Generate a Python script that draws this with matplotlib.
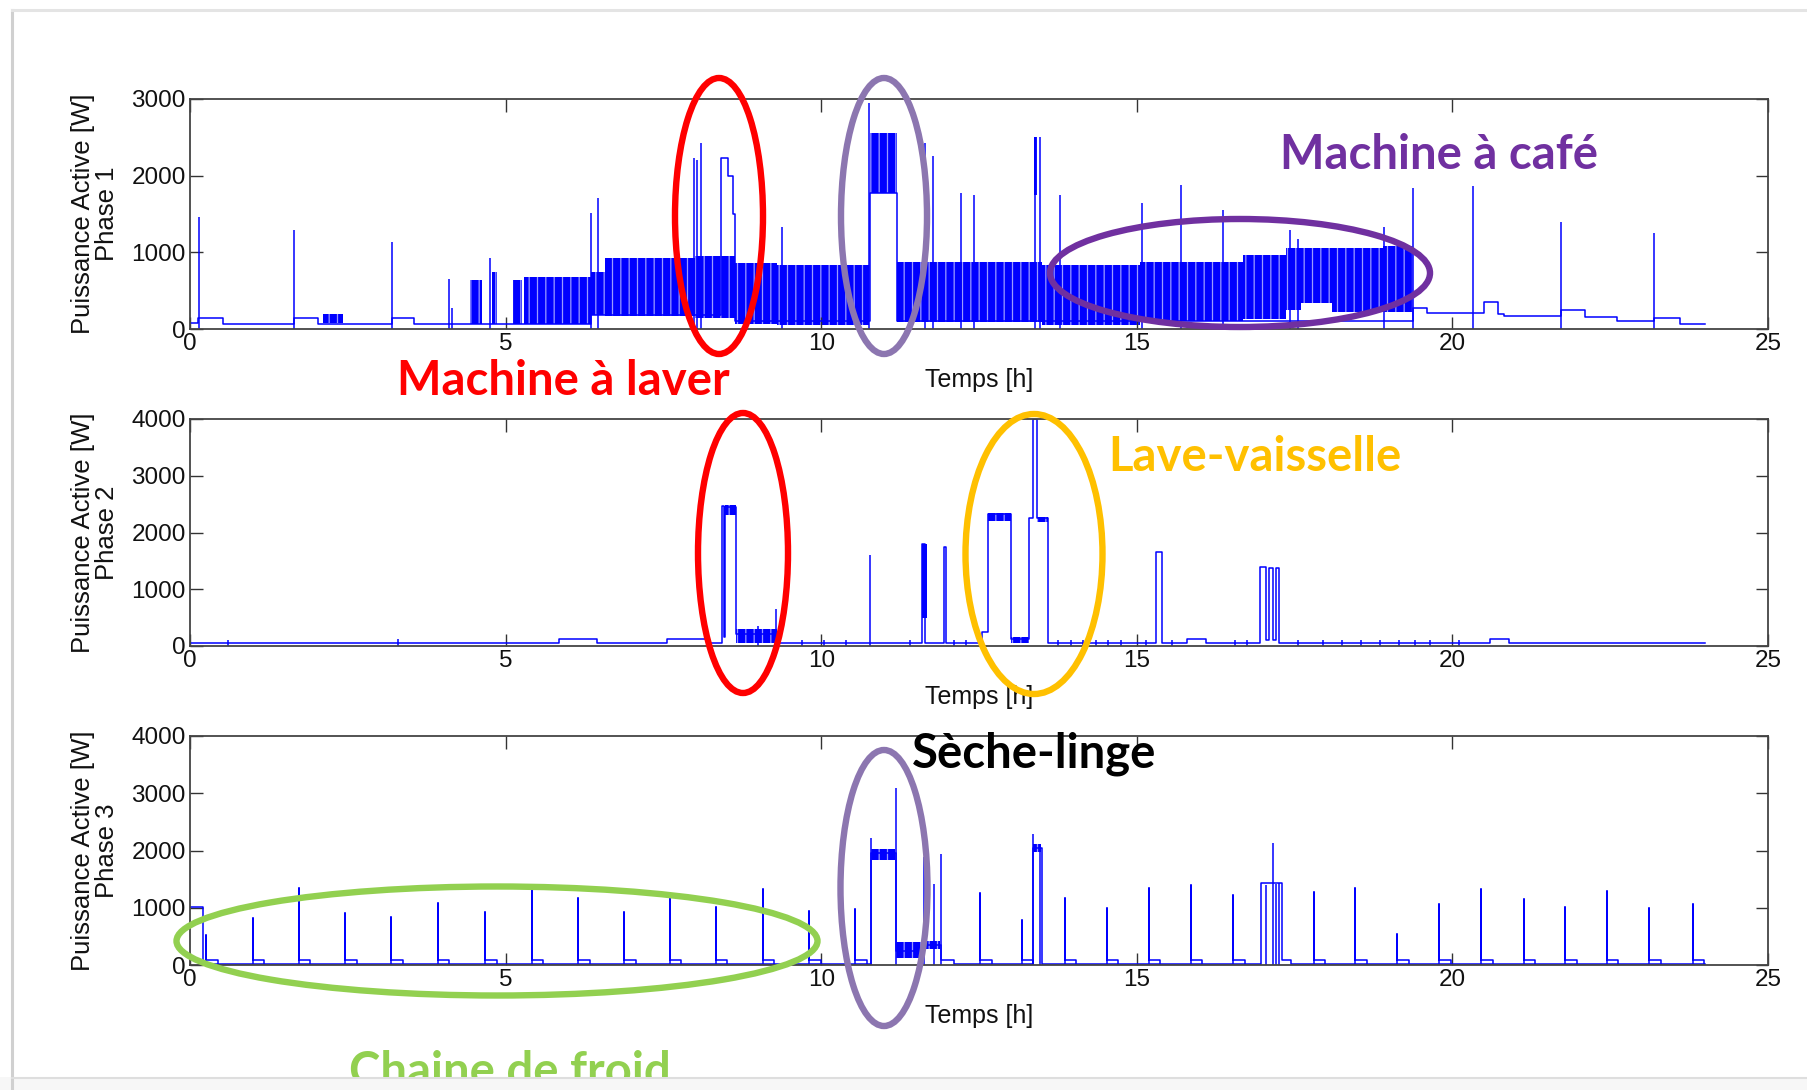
import numpy as np
import matplotlib
matplotlib.use("Agg")
import matplotlib.pyplot as plt
from matplotlib.patches import Ellipse, Rectangle
from matplotlib.collections import LineCollection

# ---------------- data ----------------
x_ticks = [0, 5, 10, 15, 20, 25]
p1_yticks = [0, 1000, 2000, 3000]
p23_yticks = [0, 1000, 2000, 3000, 4000]

# Phase 1 : stepped base signal (value holds until next breakpoint)
p1_step_t = [0, 0.12, 0.52, 1.65, 2.02, 3.2, 3.55, 4.44, 5.29, 6.36, 8.42, 8.52, 8.6, 8.64,
             10.78, 11.2, 19.38, 19.6, 20.5, 20.72, 20.82, 21.72, 22.1, 22.6, 23.2, 23.6, 24.0]
p1_step_v = [80, 150, 70, 140, 70, 140, 60, 70, 70, 180, 2230, 2000, 1500, 100,
             1780, 100, 270, 215, 350, 200, 175, 245, 160, 105, 140, 60, 60]
# Phase 1 : dense switching bands (start, end, low, high)
p1_band_t0 = [2.11, 4.44, 4.78, 5.12, 5.29, 6.36, 6.57, 8.0, 8.64, 9.3, 10.78, 11.2,
              13.37, 13.5, 15.05, 16.68, 17.37, 17.6, 18.1, 18.9]
p1_band_t1 = [2.43, 4.62, 4.86, 5.26, 6.36, 6.57, 8.0, 8.64, 9.3, 10.76, 11.2, 13.5,
              13.42, 15.05, 16.68, 17.37, 17.6, 18.1, 18.9, 19.38]
p1_band_lo = [75, 70, 70, 70, 60, 180, 170, 150, 60, 50, 1780, 90,
              1750, 50, 110, 125, 250, 340, 220, 220]
p1_band_hi = [190, 640, 750, 640, 680, 750, 930, 950, 860, 830, 2560, 880,
              2500, 840, 870, 960, 1050, 1060, 1050, 1080]
# Phase 1 : isolated spikes
p1_spike_t = [0.15, 1.65, 3.2, 4.1, 4.15, 4.76, 6.36, 6.46, 7.98, 8.03, 8.1, 9.38, 10.76, 11.64, 11.77,
              12.21, 12.42, 13.38, 13.47, 13.78, 15.08, 15.7, 16.37, 17.43, 17.55, 18.92, 19.38, 20.32,
              21.72, 23.2]
p1_spike_v = [1460, 1290, 1140, 650, 280, 930, 1510, 1710, 2230, 2200, 2420, 1330, 2950, 2420, 2250,
              1780, 1750, 2510, 2510, 1750, 1640, 1880, 1550, 1290, 1180, 1335, 1835, 1870,
              1390, 1250]

# Phase 2
p2_step_t = [0, 5.85, 6.45, 7.55, 8.2, 8.43, 8.46, 8.48, 8.65, 9.3, 11.6, 11.65, 11.95, 11.97, 12.55,
             12.65, 13.0, 13.3, 13.35, 13.42, 13.6, 15.3, 15.4, 15.8, 16.1, 16.95, 17.05, 17.1, 17.15,
             17.2, 17.25, 20.6, 20.9, 24.0]
p2_step_v = [55, 115, 55, 120, 60, 2460, 150, 2450, 220, 55, 1800, 55, 1750, 55, 250,
             2320, 120, 2250, 4000, 2250, 55, 1650, 55, 130, 55, 1400, 100, 1380, 100,
             1380, 55, 130, 55, 55]
p2_band_t0 = [8.48, 8.65, 11.6, 12.65, 13.0, 13.42]
p2_band_t1 = [8.65, 9.3, 11.68, 13.0, 13.3, 13.6]
p2_band_lo = [2300, 60, 500, 2200, 60, 2180]
p2_band_hi = [2480, 300, 1800, 2350, 150, 2280]
p2_spike_t = [0.6, 3.3, 9.0, 9.28, 9.7, 10.05, 10.4, 10.78, 11.4, 12.1, 12.3, 13.75, 13.95, 14.15,
              14.35, 14.55, 14.75, 15.15, 15.55, 16.55, 16.75, 17.55, 17.95, 18.25, 18.55, 18.85,
              19.15, 19.4, 19.65, 20.1]
p2_spike_v = [110, 120, 350, 650, 110, 110, 110, 1600, 100, 110, 110, 110, 110, 110,
              110, 110, 110, 110, 110, 110, 110, 110, 110, 110, 110, 110,
              110, 110, 110, 110]

# Phase 3
p3_step_t = [0, 0.2, 10.79, 11.19, 11.6, 11.9, 12.1, 13.35, 13.5, 16.97, 17.3, 17.45, 24.0]
p3_step_v = [1010, 15, 1950, 250, 350, 80, 15, 2050, 15, 1430, 80, 15, 15]
p3_band_t0 = [10.79, 11.19, 11.62, 13.35]
p3_band_t1 = [11.17, 11.6, 11.88, 13.48]
p3_band_lo = [1840, 130, 280, 1980]
p3_band_hi = [2020, 400, 420, 2110]
p3_spike_t = [10.79, 11.19, 11.63, 11.78, 11.9, 13.35, 13.47, 17.05, 17.15, 17.2, 17.25]
p3_spike_v = [2210, 3100, 1885, 1420, 1940, 2290, 2100, 1400, 2130, 1420, 1440]
# refrigerator cycles (cold chain)
fridge_t = [0.26, 1.0, 1.72, 2.46, 3.19, 3.93, 4.68, 5.42, 6.15, 6.88, 7.6, 8.33, 9.08, 9.81, 10.54,
            12.52, 13.18, 13.86, 14.53, 15.19, 15.86, 16.53, 17.8, 18.46, 19.13, 19.79, 20.46,
            21.13, 21.79, 22.45, 23.12, 23.81]
fridge_peak = [530, 818, 1337, 905, 847, 1089, 922, 1337, 1176, 922, 1182, 1020, 1320, 951, 974,
               1250, 790, 1164, 990, 1349, 1395, 1222, 1280, 1349, 542, 1066, 1320,
               1153, 1014, 1297, 991, 1060]
fridge_plateau = 90
fridge_base = 15
fridge_duration = 0.18

# ---------------- figure ----------------
W, H = 1808, 1090
plt.rcParams["hatch.linewidth"] = 0.9
fig = plt.figure(figsize=(W / 100, H / 100), dpi=100)
fig.patch.set_facecolor("white")

TICK_FONT = ["Liberation Sans", "DejaVu Sans"]
BLUE = "#0000FF"

def px_axes(left, top, right, bottom):
    return fig.add_axes([left / W, 1 - bottom / H, (right - left) / W, (bottom - top) / H])

def style_axes(ax, ymax, yticks, phase):
    ax.set_xlim(0, 25)
    ax.set_ylim(0, ymax)
    ax.set_xticks(x_ticks)
    ax.set_yticks(yticks)
    ax.set_xticklabels([str(v) for v in x_ticks], family=TICK_FONT, fontsize=17.5)
    ax.set_yticklabels([str(v) for v in yticks], family=TICK_FONT, fontsize=17.5)
    ax.tick_params(direction="in", length=9, width=1.0, top=True, right=True,
                   colors="#333333", labelcolor="#111111", pad=3)
    for s in ax.spines.values():
        s.set_color("#444444")
        s.set_linewidth(1.3)
    ax.set_xlabel("Temps [h]", family=TICK_FONT, fontsize=18, labelpad=9, color="#111111")
    ax.set_ylabel("Puissance Active [W]\nPhase %d" % phase, family=TICK_FONT, fontsize=18.5,
                  linespacing=1.0, labelpad=9, color="#111111")

def draw_phase(ax, step_t, step_v, b0, b1, blo, bhi, sp_t, sp_v):
    ax.plot(step_t, step_v, drawstyle="steps-post", color=BLUE, lw=1.1)
    for t0, t1, lo, hi in zip(b0, b1, blo, bhi):
        ax.fill_between([t0, t1], [lo, lo], [hi, hi], facecolor=BLUE, edgecolor="#9a9aff",
                        hatch="||", lw=0)
    ax.vlines(sp_t, 0, sp_v, color=BLUE, lw=1.1)

ax1 = px_axes(190, 99, 1768, 329)
draw_phase(ax1, p1_step_t, p1_step_v, p1_band_t0, p1_band_t1, p1_band_lo, p1_band_hi, p1_spike_t, p1_spike_v)
style_axes(ax1, 3000, p1_yticks, 1)

ax2 = px_axes(190, 419, 1768, 646)
draw_phase(ax2, p2_step_t, p2_step_v, p2_band_t0, p2_band_t1, p2_band_lo, p2_band_hi, p2_spike_t, p2_spike_v)
style_axes(ax2, 4000, p23_yticks, 2)

ax3 = px_axes(190, 736, 1768, 965)
draw_phase(ax3, p3_step_t, p3_step_v, p3_band_t0, p3_band_t1, p3_band_lo, p3_band_hi, p3_spike_t, p3_spike_v)
segs = []
for t, pk in zip(fridge_t, fridge_peak):
    segs.append([(t, fridge_base), (t, pk), (t, fridge_plateau),
                 (t + fridge_duration, fridge_plateau), (t + fridge_duration, fridge_base)])
ax3.add_collection(LineCollection(segs, colors=BLUE, linewidths=1.1))
style_axes(ax3, 4000, p23_yticks, 3)

# ---------------- overlay annotations (pixel coordinates) ----------------
SLIDE_BOTTOM = 1077
ov = fig.add_axes([0, 1 - SLIDE_BOTTOM / H, 1, SLIDE_BOTTOM / H], zorder=10)
ov.set_xlim(0, W)
ov.set_ylim(SLIDE_BOTTOM, 0)
ov.axis("off")

# slide frame / shadow
ov.plot([12, 12], [10, H], color="#d0d0d0", lw=2.2, clip_on=False)
ov.plot([12, W], [10, 10], color="#e4e4e4", lw=2.2, clip_on=False)
ov.add_patch(Rectangle((0, SLIDE_BOTTOM), W, H - SLIDE_BOTTOM, facecolor="#f7f7f7",
                       edgecolor="none", clip_on=False))
ov.plot([12, W], [SLIDE_BOTTOM + 1, SLIDE_BOTTOM + 1], color="#dedede", lw=1.5, clip_on=False)

PURPLE_L = "#8C76B0"
PURPLE_D = "#7030A0"
RED = "#FF0000"
ORANGE = "#FFC000"
GREEN = "#92D050"
ELW = 4.6

ellipses = [
    ((719, 216), 88, 276, RED),
    ((884, 216), 86, 276, PURPLE_L),
    ((1240, 273), 380, 108, PURPLE_D),
    ((743, 553), 90, 280, RED),
    ((1034, 554), 137, 280, ORANGE),
    ((884, 888), 87, 276, PURPLE_L),
    ((497, 941), 641, 109, GREEN),
]
for c, w, h, col in ellipses:
    ov.add_patch(Ellipse(c, w, h, fill=False, edgecolor=col, lw=ELW, clip_on=False))

LBL = dict(family=["Lato", "DejaVu Sans"], fontweight="bold", ha="center", va="center", fontsize=34)
ov.text(1439, 155, "Machine à café", color=PURPLE_D, **LBL)
ov.text(563, 381, "Machine à laver", color=RED, **LBL)
ov.text(1255, 457, "Lave-vaisselle", color=ORANGE, **LBL)
ov.text(1034, 754, "Sèche-linge", color="black", **LBL)
ov.text(510, 1050, "Chaine de froid", color=GREEN, family=["Lato", "DejaVu Sans"],
        fontweight="bold", ha="center", va="top", fontsize=34, clip_on=True)

fig.savefig("out.png", dpi=100)
